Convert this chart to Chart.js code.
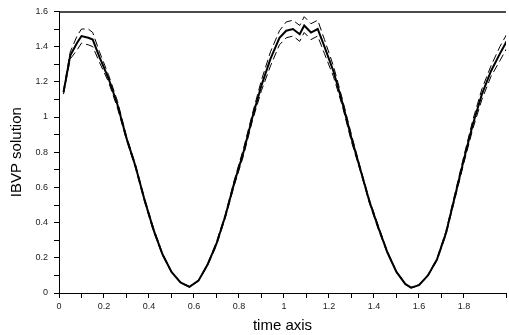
<!doctype html>
<head>
    <title>IBVP solution</title>
    <script src="https://cdn.jsdelivr.net/npm/chart.js"></script>
    <style>
        html, body { margin: 0; padding: 0; background: #fff; }
        #wrap { width: 509px; height: 335px; }
    </style>
</head>
<body>
<div id="wrap">
    <canvas id="myChart" width="509" height="335"></canvas>
</div>
</body>

<script>
    // time points shared by the three curves
    const times = [0.02, 0.05, 0.08, 0.10, 0.13, 0.15, 0.18, 0.22, 0.26, 0.30,
                   0.34, 0.38, 0.42, 0.46, 0.50, 0.54, 0.58, 0.62, 0.66, 0.70,
                   0.74, 0.78, 0.82, 0.86, 0.90, 0.94, 0.98, 1.01, 1.04, 1.07,
                   1.09, 1.12, 1.15, 1.18, 1.22, 1.26, 1.30, 1.34, 1.38, 1.42,
                   1.46, 1.50, 1.54, 1.565, 1.60, 1.64, 1.68, 1.72, 1.76, 1.80,
                   1.84, 1.88, 1.92, 1.96, 1.99];
    const solution = [1.14, 1.35, 1.42, 1.46, 1.45, 1.44, 1.34, 1.22, 1.07, 0.88,
                      0.72, 0.53, 0.36, 0.22, 0.12, 0.06, 0.035, 0.07, 0.16, 0.28,
                      0.44, 0.63, 0.80, 1.00, 1.18, 1.33, 1.45, 1.49, 1.50, 1.47,
                      1.52, 1.48, 1.50, 1.40, 1.26, 1.08, 0.88, 0.70, 0.52, 0.37,
                      0.23, 0.12, 0.05, 0.03, 0.045, 0.10, 0.19, 0.34, 0.55, 0.76,
                      0.96, 1.13, 1.26, 1.36, 1.43];
    const upper = [1.15, 1.37, 1.46, 1.50, 1.50, 1.48, 1.37, 1.24, 1.09, 0.89,
                   0.73, 0.54, 0.37, 0.225, 0.123, 0.062, 0.037, 0.072, 0.165, 0.29,
                   0.45, 0.645, 0.82, 1.02, 1.21, 1.37, 1.49, 1.54, 1.55, 1.52,
                   1.57, 1.53, 1.55, 1.44, 1.29, 1.10, 0.90, 0.71, 0.53, 0.38,
                   0.235, 0.123, 0.052, 0.032, 0.047, 0.103, 0.195, 0.35, 0.565, 0.78,
                   0.985, 1.16, 1.29, 1.40, 1.47];
    const lower = [1.13, 1.33, 1.38, 1.42, 1.41, 1.40, 1.31, 1.20, 1.05, 0.87,
                   0.71, 0.52, 0.35, 0.215, 0.117, 0.058, 0.033, 0.068, 0.155, 0.27,
                   0.43, 0.615, 0.78, 0.98, 1.15, 1.29, 1.41, 1.45, 1.46, 1.43,
                   1.48, 1.44, 1.46, 1.36, 1.23, 1.06, 0.86, 0.69, 0.51, 0.36,
                   0.225, 0.117, 0.048, 0.028, 0.043, 0.097, 0.185, 0.33, 0.535, 0.74,
                   0.935, 1.10, 1.23, 1.32, 1.39];

    const toPoints = vals => vals.map((v, i) => ({ x: times[i], y: v }));

    const FONT = '"Liberation Sans", Arial, Helvetica, sans-serif';

    // label only every 0.2, the 0.1 ticks stay as minor marks
    function majorLabel(v) {
        const k = v * 5;
        if (Math.abs(k - Math.round(k)) > 1e-6) return '';
        return String(Math.round(v * 10) / 10);
    }

    // top frame line like the original plot
    const topBorder = {
        id: 'topBorder',
        afterDraw(chart) {
            const { ctx, chartArea } = chart;
            ctx.save();
            ctx.strokeStyle = '#111';
            ctx.lineWidth = 1.5;
            ctx.beginPath();
            ctx.moveTo(chartArea.left, chartArea.top + 0.5);
            ctx.lineTo(chartArea.right, chartArea.top + 0.5);
            ctx.stroke();
            ctx.restore();
        }
    };

    const ctx = document.getElementById('myChart');
    window.myChart = new Chart(ctx, {
        type: 'line',
        data: {
            datasets: [{
                label: 'solution',
                data: toPoints(solution),
                borderColor: '#000',
                borderWidth: 2,
                pointRadius: 0,
                tension: 0
            },
            {
                label: 'upper',
                data: toPoints(upper),
                borderColor: '#000',
                borderWidth: 1,
                borderDash: [8, 4],
                pointRadius: 0,
                tension: 0
            },
            {
                label: 'lower',
                data: toPoints(lower),
                borderColor: '#000',
                borderWidth: 1,
                borderDash: [8, 4],
                pointRadius: 0,
                tension: 0
            }]
        },
        options: {
            responsive: false,
            animation: false,
            layout: { padding: { top: 9, right: 0, left: 0, bottom: 0 } },
            plugins: {
                legend: { display: false },
                tooltip: { enabled: false }
            },
            scales: {
                x: {
                    type: 'linear',
                    min: 0,
                    max: 1.987,
                    afterFit: s => { s.height = 42; },
                    border: { color: '#000', width: 1 },
                    grid: { drawOnChartArea: false, tickLength: 5, color: '#000' },
                    ticks: {
                        stepSize: 0.1,
                        autoSkip: false,
                        maxRotation: 0,
                        color: '#222',
                        padding: 3,
                        font: { family: FONT, size: 9 },
                        callback: majorLabel
                    },
                    title: {
                        display: true,
                        text: 'time axis',
                        color: '#000',
                        font: { family: FONT, size: 15 },
                        padding: { top: 2, bottom: 0 }
                    }
                },
                y: {
                    min: 0,
                    max: 1.6,
                    afterFit: s => { s.width = 59; },
                    border: { color: '#000', width: 1 },
                    grid: { drawOnChartArea: false, tickLength: 5, color: '#000' },
                    ticks: {
                        stepSize: 0.1,
                        autoSkip: false,
                        color: '#222',
                        padding: 6,
                        font: { family: FONT, size: 9 },
                        callback: majorLabel
                    },
                    title: {
                        display: true,
                        text: 'IBVP solution',
                        color: '#000',
                        font: { family: FONT, size: 15 },
                        padding: { top: 8, bottom: 4 }
                    }
                }
            }
        },
        plugins: [topBorder]
    });
</script>
